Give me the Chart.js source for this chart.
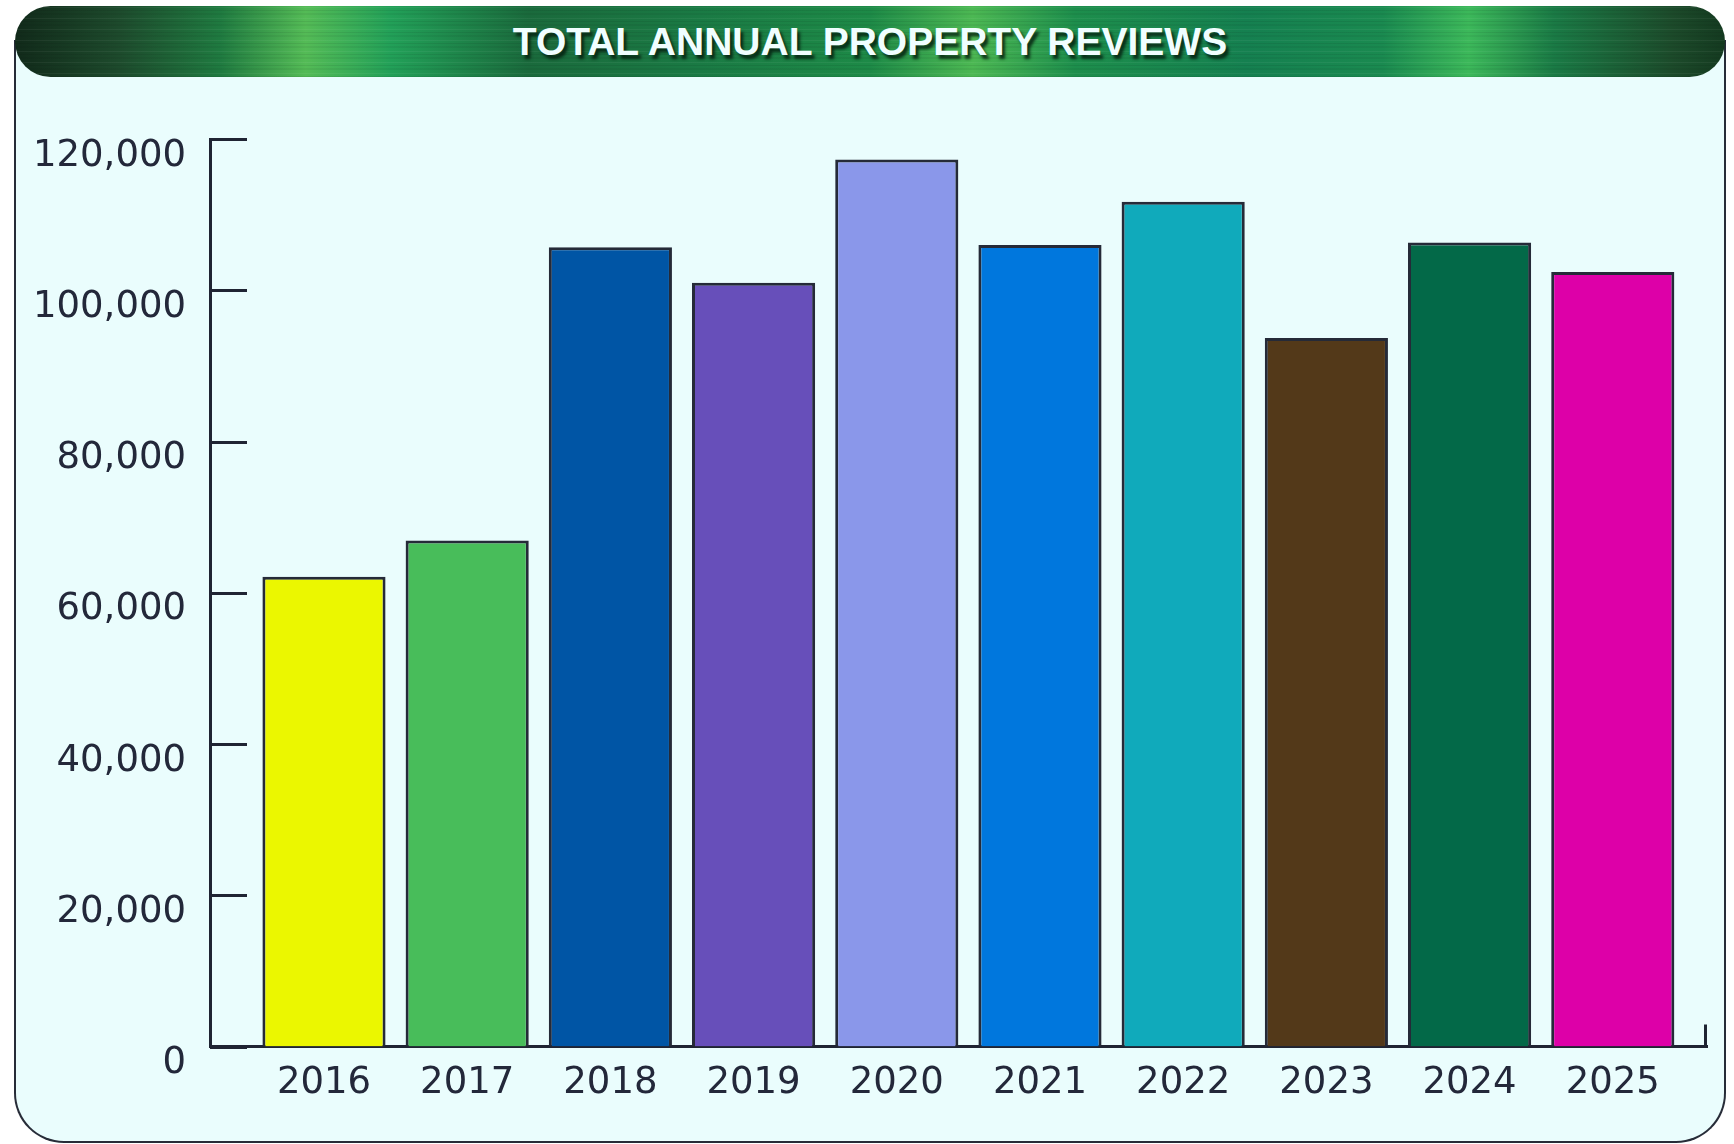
<!DOCTYPE html>
<html>
<head>
<meta charset="utf-8">
<title>Total Annual Property Reviews</title>
<script src="https://cdn.jsdelivr.net/npm/chart.js@4.4.1/dist/chart.umd.min.js"></script>
<style>
  html, body { margin: 0; padding: 0; background: #ffffff; }
  .wrap { position: relative; width: 1734px; height: 1144px; overflow: hidden; }
  .card {
    position: absolute; left: 14px; top: 40px; width: 1708px; height: 1101px;
    background: #eafdfd; border: 2px solid #272c38; border-top: none;
    border-radius: 0 0 50px 50px;
  }
  .title-bar {
    position: absolute; left: 15px; top: 6px; width: 1710px; height: 71px;
    border-radius: 36px;
    background:
      repeating-linear-gradient(0deg,
        rgba(0, 0, 0, 0.07) 0 1px, rgba(0, 0, 0, 0) 1px 3px,
        rgba(255, 255, 255, 0.05) 3px 4px, rgba(0, 0, 0, 0) 4px 7px,
        rgba(0, 0, 0, 0.05) 7px 9px, rgba(0, 0, 0, 0) 9px 11px),
      linear-gradient(90deg,
        #112a1a 0%, #1d4a2c 6%, #1f7a40 12%, #54bb56 17%, #22a058 22%,
        #1a6a3c 30%, #1a7a44 40%, #1d8a47 50%, #4cb853 56%, #1d8e4c 62%,
        #158050 72%, #1a8a50 80%, #3cb85a 85%, #1a7a45 90%, #1c4a2a 97%, #143a20 100%);
    color: #f0feff;
    font: bold 39px "Liberation Sans", Arial, sans-serif;
    line-height: 71px; text-align: center;
    text-shadow: 3px 4px 3px rgba(5, 30, 15, 0.85);
  }
  canvas { position: absolute; left: 0; top: 0; }
</style>
</head>
<body>
<div class="wrap">
  <div class="card"></div>
  <div class="title-bar">TOTAL ANNUAL PROPERTY REVIEWS</div>
  <canvas id="chart" width="1734" height="1144"></canvas>
</div>
<script>
const years = [2016, 2017, 2018, 2019, 2020, 2021, 2022, 2023, 2024, 2025];
const reviews = [62100, 66900, 105700, 101000, 117300, 106000, 111700, 93700, 106300, 102400];
const barColors = [
  '#ebf700', '#48bd5a', '#0055a5', '#674fba', '#8a97ea',
  '#0077dd', '#10aabb', '#533919', '#036948', '#dd00a8',
];
const yTicks = [0, 20000, 40000, 60000, 80000, 100000, 120000];

const axisColor = '#1f2433';
const labelFont = { family: '"DejaVu Sans", sans-serif', size: 37 };

// inward tick marks on the value axis and the small stop at the end of the base line
const axisMarks = {
  id: 'axisMarks',
  afterDraw(chart) {
    const { ctx, chartArea, scales } = chart;
    ctx.save();
    ctx.strokeStyle = axisColor;
    ctx.lineWidth = 3;
    scales.y.ticks.forEach((t) => {
      const y = Math.round(scales.y.getPixelForValue(t.value)) + 0.5;
      ctx.beginPath();
      ctx.moveTo(chartArea.left, y);
      ctx.lineTo(chartArea.left + 37, y);
      ctx.stroke();
    });
    ctx.beginPath();
    ctx.moveTo(chartArea.right - 1.5, chartArea.bottom);
    ctx.lineTo(chartArea.right - 1.5, chartArea.bottom - 22);
    ctx.stroke();
    ctx.restore();
  },
};

new Chart(document.getElementById('chart'), {
  type: 'bar',
  data: {
    labels: years,
    datasets: [
      {
        data: reviews,
        backgroundColor: barColors,
        borderColor: '#252a38',
        borderWidth: 3,
        barPercentage: 0.86,
        categoryPercentage: 1,
      },
    ],
  },
  options: {
    responsive: false,
    devicePixelRatio: 1,
    animation: false,
    layout: { padding: { top: 139, right: 27, left: 0, bottom: 0 } },
    plugins: {
      legend: { display: false },
      tooltip: { enabled: false },
    },
    scales: {
      x: {
        type: 'linear',
        min: 2015.204,
        max: 2025.658,
        offset: false,
        z: 1,
        grid: { display: false, offset: false, drawTicks: false },
        border: { display: true, color: axisColor, width: 3 },
        afterBuildTicks: (scale) => {
          scale.ticks = years.map((y) => ({ value: y }));
        },
        afterFit: (scale) => {
          scale.height = 97.5;
        },
        ticks: {
          autoSkip: false,
          maxRotation: 0,
          padding: 15,
          color: '#23283a',
          font: labelFont,
          callback: (value) => String(value),
        },
      },
      y: {
        min: 0,
        max: 120000,
        z: 1,
        grid: { display: false, drawTicks: false },
        border: { display: true, color: axisColor, width: 3 },
        afterBuildTicks: (scale) => {
          scale.ticks = yTicks.map((v) => ({ value: v }));
        },
        afterFit: (scale) => {
          scale.width = 210;
        },
        ticks: {
          padding: 24,
          labelOffset: 17,
          color: '#23283a',
          font: labelFont,
          callback: (value) => value.toLocaleString('en-US'),
        },
      },
    },
  },
  plugins: [axisMarks],
});
</script>
</body>
</html>
